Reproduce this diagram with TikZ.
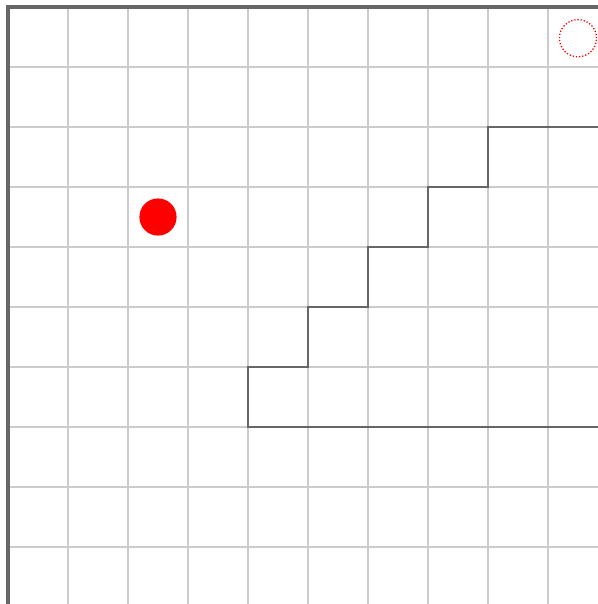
\documentclass[tikz,border=0pt]{standalone}
\usepackage{tikz,xcolor}

\definecolor{gridgray}{RGB}{204,204,204}
\definecolor{wallgray}{RGB}{102,102,102}

\begin{document}
\begin{tikzpicture}[scale=1, transform shape,
  gridline/.style={gridgray, line width=0.55pt},
  wall/.style={wallgray, line width=1.4pt},
  border/.style={wallgray, line width=1.7pt}]

\useasboundingbox (-0.1333,0.1167) rectangle (9.8333,-9.95);
\clip (-0.1333,0.1167) rectangle (9.8333,-9.95);

% 网格
\foreach \i in {1,...,9} {
  \draw[gridline] (\i,0) -- (\i,-10);
  \draw[gridline] (0,-\i) -- (10,-\i);
}

% 边框
\draw[border] (0,-10) -- (0,0) -- (10,0);

% 台阶
\draw[wall] (10,-2) -- (8,-2) -- (8,-3) -- (7,-3) -- (7,-4) -- (6,-4)
  -- (6,-5) -- (5,-5) -- (5,-6) -- (4,-6) -- (4,-7) -- (10,-7);

% 定义节点
\node[circle, fill=red, inner sep=0pt, minimum size=0.62cm] (ball) at (2.5,-3.5) {};
\node[circle, draw=red, dash pattern=on 0.6pt off 0.9pt, line width=0.6pt,
  inner sep=0pt, minimum size=0.62cm] (target) at (9.5,-0.52) {};

\end{tikzpicture}
\end{document}
